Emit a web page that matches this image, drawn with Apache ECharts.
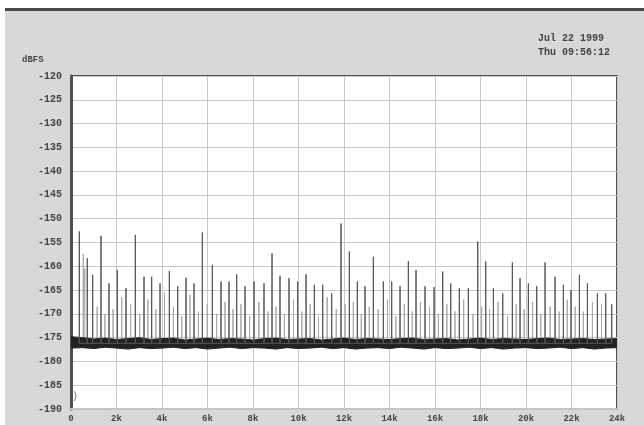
<!DOCTYPE html>
<html>
<head>
<meta charset="utf-8">
<script src="https://cdn.jsdelivr.net/npm/echarts@6/dist/echarts.min.js"></script>
<style>
html,body{margin:0;padding:0;background:#d8d8d8;}
#c{width:644px;height:425px;}
</style>
</head>
<body>
<div id="c"></div>
<script>
// ---- data ----
var yTicks = [-120,-125,-130,-135,-140,-145,-150,-155,-160,-165,-170,-175,-180,-185,-190];
var xTickLabels = ['0','2k','4k','6k','8k','10k','12k','14k','16k','18k','20k','22k','24k'];

// main (dark) spurious tones: frequency (Hz) and peak level (dBFS)
var mainFreq = [365,717,952,1319,1670,2037,2418,2828,3209,3546,3913,4323,4690,5056,5407,5774,6213,6594,6946,7283,7650,8045,8484,8836,9187,9583,9965,10331,10697,11064,11459,11869,12235,12586,12924,13290,13730,14096,14463,14829,15166,15562,15960,16339,16691,17070,17466,17878,18230,18567,18977,19401,19738,20105,20472,20838,21277,21643,21980,22347,22699,23138,23504,23768];
var mainLevel = [-152.7,-158.3,-161.8,-153.6,-163.6,-160.8,-164.6,-153.4,-162.2,-162.2,-163.6,-161.0,-164.2,-162.4,-163.6,-152.9,-159.7,-163.2,-163.2,-161.7,-164.2,-163.2,-163.6,-157.3,-162.0,-162.5,-163.2,-161.7,-163.9,-163.9,-165.7,-151.0,-156.9,-163.2,-164.2,-158.0,-163.2,-163.2,-164.2,-158.9,-160.8,-164.2,-164.4,-161.1,-163.6,-164.6,-164.6,-154.8,-159.0,-164.6,-165.7,-159.2,-162.5,-163.6,-164.2,-159.2,-162.2,-163.9,-165.0,-161.8,-163.6,-165.7,-165.7,-168.0];

// lighter (second trace) tones
var lightFreq = [540,610,1150,1490,1850,2230,2620,3020,3380,3730,4110,4500,4870,5230,5600,5990,6400,6770,7120,7470,7850,8260,8660,9010,9380,9780,10150,10510,10880,11260,11660,12050,12410,12760,13110,13500,13910,14280,14650,15000,15360,15760,16150,16520,16880,17260,17670,18050,18400,18770,19190,19570,19920,20290,20650,21060,21460,21810,22160,22520,22920,23320];
var lightLevel = [-157.5,-160.5,-168.5,-170.0,-169.0,-166.5,-168.0,-170.0,-167.0,-169.0,-165.5,-168.5,-170.5,-166.0,-169.5,-168.0,-170.0,-167.5,-169.0,-168.0,-170.5,-167.5,-169.5,-168.5,-170.0,-167.0,-169.5,-168.0,-170.5,-166.5,-169.0,-168.0,-167.5,-170.0,-168.5,-169.0,-167.0,-170.5,-168.0,-169.5,-167.5,-168.5,-170.0,-168.0,-169.5,-167.0,-170.0,-168.5,-169.0,-167.5,-170.5,-168.0,-169.0,-167.5,-170.0,-168.5,-169.5,-167.0,-168.5,-169.5,-167.5,-168.0];

// noise floor band (upper / lower envelope), sampled every 500 Hz from 0 to 24 kHz
var noiseFreq = [0,500,1000,1500,2000,2500,3000,3500,4000,4500,5000,5500,6000,6500,7000,7500,8000,8500,9000,9500,10000,10500,11000,11500,12000,12500,13000,13500,14000,14500,15000,15500,16000,16500,17000,17500,18000,18500,19000,19500,20000,20500,21000,21500,22000,22500,23000,23500,24000];
var noiseTop = [-174.8,-175.0,-175.3,-175.1,-175.4,-175.2,-175.0,-175.4,-175.2,-175.1,-175.5,-175.3,-175.1,-175.4,-175.2,-175.3,-175.5,-175.2,-175.1,-175.4,-175.3,-175.2,-175.5,-175.3,-175.1,-175.4,-175.2,-175.3,-175.4,-175.2,-175.1,-175.4,-175.3,-175.2,-175.5,-175.3,-175.1,-175.4,-175.2,-175.3,-175.4,-175.2,-175.1,-175.4,-175.3,-175.2,-175.4,-175.3,-175.2];
var noiseBottom = [-177.2,-177.1,-177.3,-177.0,-177.2,-177.4,-177.1,-177.3,-177.2,-177.0,-177.3,-177.1,-177.4,-177.2,-177.0,-177.3,-177.1,-177.2,-177.4,-177.1,-177.3,-177.2,-177.0,-177.3,-177.1,-177.4,-177.2,-177.1,-177.3,-177.0,-177.2,-177.4,-177.1,-177.3,-177.2,-177.0,-177.3,-177.1,-177.4,-177.2,-177.1,-177.3,-177.2,-177.0,-177.3,-177.1,-177.4,-177.2,-177.1];
var spikeBase = -176.2;

var headerLines = ['Jul 22 1999', 'Thu 09:56:12'];
var yUnit = 'dBFS';

// ---- build series data ----
function spikeData(freqs, levels){
  var d = [];
  for (var i = 0; i < freqs.length; i++){
    d.push([freqs[i], spikeBase]);
    d.push([freqs[i], levels[i]]);
    d.push([freqs[i], spikeBase]);
  }
  return d;
}
var bandLow = noiseFreq.map(function(f,i){ return [f, noiseBottom[i]]; });
var bandHigh = noiseFreq.map(function(f,i){ return [f, noiseTop[i]]; });

var chart = echarts.init(document.getElementById('c'), null, {renderer:'canvas'});
var monoFont = '"Liberation Mono","DejaVu Sans Mono",monospace';

chart.setOption({
  backgroundColor: '#d8d8d8',
  animation: false,
  graphic: [
    {type:'rect', shape:{x:0,y:0,width:644,height:8}, style:{fill:'#ffffff'}, silent:true},
    {type:'rect', shape:{x:0,y:8,width:644,height:3}, style:{fill:'#4a4a4a'}, silent:true},
    {type:'rect', shape:{x:0,y:0,width:5,height:425}, style:{fill:'#ffffff'}, silent:true},
    {type:'text', right: 34, top: 31, style:{text: headerLines.join('\n'), font:'bold 10px ' + monoFont, fill:'#444', lineHeight:14, textAlign:'left'}},
    {type:'text', left: 22, top: 55, style:{text: yUnit, font:'bold 9px ' + monoFont, fill:'#444'}},
    {type:'text', left: 72, top: 391, style:{text: ')', font:'10px ' + monoFont, fill:'#777'}}
  ],
  grid: {left:71, right:27, top:76, bottom:16, show:true, backgroundColor:'#ffffff', borderColor:'#505050', borderWidth:2},
  xAxis: {
    type:'value', min:0, max:24000, interval:2000,
    axisLine:{show:true, lineStyle:{color:'#c4c4c4', width:2}},
    axisTick:{show:false},
    splitLine:{show:true, lineStyle:{color:'#c8c8c8', width:1}},
    axisLabel:{
      fontFamily: monoFont, fontWeight:'bold', fontSize:9, color:'#444', margin:5,
      formatter:function(v){ return xTickLabels[Math.round(v/2000)]; }
    }
  },
  yAxis: {
    type:'value', min:-190, max:-120, interval:5,
    axisLine:{show:true, lineStyle:{color:'#505050', width:3}},
    axisTick:{show:false},
    splitLine:{show:true, lineStyle:{color:'#c8c8c8', width:1}},
    axisLabel:{
      fontFamily: monoFont, fontWeight:'bold', fontSize:10, color:'#444', margin:9,
      formatter:function(v){ return yTicks.indexOf(v) >= 0 ? String(v) : ''; }
    }
  },
  series: [
    {type:'line', data: spikeData(lightFreq, lightLevel), symbol:'none', lineStyle:{color:'#a8a8a8', width:1}, z:2},
    {type:'line', data: bandLow, symbol:'none', lineStyle:{color:'#222', width:1}, z:3},
    {type:'line', data: bandHigh, symbol:'none', lineStyle:{color:'#222', width:1}, z:3},
    {type:'line', data: spikeData(mainFreq, mainLevel), symbol:'none', lineStyle:{color:'#555555', width:1}, z:4},
    {type:'custom', z:3,
     data: noiseFreq.map(function(f,i){ return [f, noiseTop[i], noiseBottom[i]]; }),
     renderItem: function(params, api){
       if (params.dataIndex === 0) {
         var pts = [];
         var n = noiseFreq.length;
         for (var i = 0; i < n; i++) pts.push(api.coord([noiseFreq[i], noiseTop[i]]));
         for (var j = n - 1; j >= 0; j--) pts.push(api.coord([noiseFreq[j], noiseBottom[j]]));
         return {type:'polygon', shape:{points:pts}, style:{fill:'#222222'}};
       }
       return null;
     }
    }
  ]
});
</script>
</body>
</html>
